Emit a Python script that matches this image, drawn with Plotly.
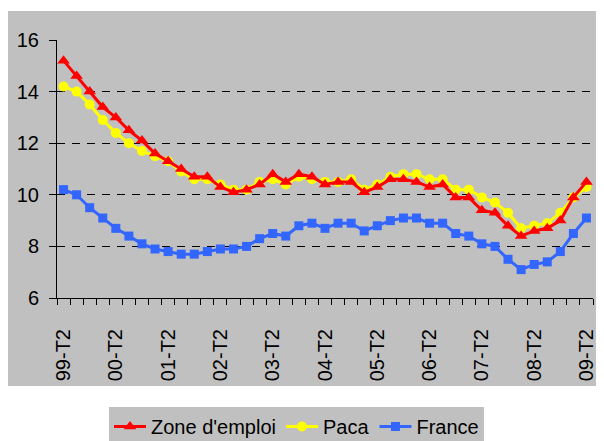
import plotly.graph_objects as go

quarters = []
for y in range(1999, 2010):
    for q in ["T1", "T2", "T3", "T4"]:
        quarters.append(f"{str(y)[2:]}-{q}")
quarters = quarters[1:42]  # 99-T2 .. 09-T2

zone = [15.2, 14.6, 14.0, 13.4, 13.0, 12.5, 12.1, 11.6, 11.3, 11.0,
        10.7, 10.7, 10.3, 10.1, 10.2, 10.4, 10.8, 10.5, 10.8, 10.7,
        10.4, 10.5, 10.5, 10.1, 10.3, 10.6, 10.6, 10.5, 10.3, 10.4,
        9.9, 9.9, 9.4, 9.3, 8.8, 8.4, 8.6, 8.7, 9.0, 9.9, 10.5]
paca = [14.2, 14.0, 13.5, 12.9, 12.4, 12.0, 11.7, 11.5, 11.3, 10.9,
        10.6, 10.6, 10.4, 10.2, 10.2, 10.5, 10.6, 10.4, 10.7, 10.6,
        10.5, 10.5, 10.6, 10.2, 10.4, 10.7, 10.8, 10.8, 10.6, 10.6,
        10.2, 10.2, 9.9, 9.7, 9.3, 8.7, 8.8, 8.9, 9.3, 9.9, 10.3]
france = [10.2, 10.0, 9.5, 9.1, 8.7, 8.4, 8.1, 7.9, 7.8, 7.7,
          7.7, 7.8, 7.9, 7.9, 8.0, 8.3, 8.5, 8.4, 8.8, 8.9,
          8.7, 8.9, 8.9, 8.6, 8.8, 9.0, 9.1, 9.1, 8.9, 8.9,
          8.5, 8.4, 8.1, 8.0, 7.5, 7.1, 7.3, 7.4, 7.8, 8.5, 9.1]

idx = list(range(len(quarters)))
tick_idx = [i for i, q in enumerate(quarters) if q.endswith("T2")]
tick_txt = [quarters[i] for i in tick_idx]

OFF = 8  # page body margin
W, H = 604 - OFF, 441 - OFF
ml, mr, mt, mb = 57 - OFF, 11, 40 - OFF, 143
pw, ph = W - ml - mr, H - mt - mb

def px2x(px):
    return (px - OFF - ml) / pw

def py2y(py):
    return (H - mb - (py - OFF)) / ph

fig = go.Figure()
fig.add_trace(go.Scatter(x=idx, y=france, name="France", mode="lines+markers",
                         line=dict(color="#3366FF", width=3),
                         marker=dict(symbol="square", size=9, color="#3366FF"),
                         legendrank=3))
fig.add_trace(go.Scatter(x=idx, y=paca, name="Paca", mode="lines+markers",
                         line=dict(color="#FFFF00", width=3),
                         marker=dict(symbol="circle", size=10, color="#FFFF00"),
                         legendrank=2))
fig.add_trace(go.Scatter(x=idx, y=zone, name="Zone d'emploi", mode="lines+markers",
                         line=dict(color="#FF0000", width=3),
                         marker=dict(symbol="triangle-up", size=11, color="#FF0000"),
                         legendrank=1))

fig.add_shape(type="rect", xref="paper", yref="paper",
              x0=px2x(6), x1=px2x(610), y0=py2y(386), y1=py2y(11),
              fillcolor="#C0C0C0", line=dict(width=0), layer="below")

fig.update_layout(
    width=W, height=H,
    margin=dict(l=ml, r=mr, t=mt, b=mb, pad=0, autoexpand=False),
    paper_bgcolor="white", plot_bgcolor="#C0C0C0",
    font=dict(family="Liberation Sans, Arial, sans-serif", size=20, color="black"),
    showlegend=True,
    legend=dict(orientation="h", x=px2x(109), y=py2y(407), xanchor="left", yanchor="top",
                bgcolor="#C0C0C0", font=dict(size=20), traceorder="normal",
                itemwidth=32, tracegroupgap=0),
)
fig.update_xaxes(range=[-0.5, len(quarters) - 0.5], tickmode="array",
                 tickvals=tick_idx, ticktext=tick_txt, tickangle=-90,
                 ticks="", showgrid=False, zeroline=False, automargin=False,
                 showline=True, linecolor="black", linewidth=1,
                 minor=dict(tick0=-0.5, dtick=1, ticks="outside", ticklen=6,
                            tickcolor="black", showgrid=False),
                 ticklabelstandoff=22)
fig.update_yaxes(range=[6, 16], tickmode="linear", tick0=6, dtick=2,
                 ticks="outside", ticklen=7, tickcolor="black", automargin=False,
                 showgrid=True, gridcolor="black", gridwidth=1, griddash="8px,7px",
                 zeroline=False, showline=True, linecolor="black", linewidth=1,
                 ticklabelstandoff=6)

fig.write_html("out.html")
